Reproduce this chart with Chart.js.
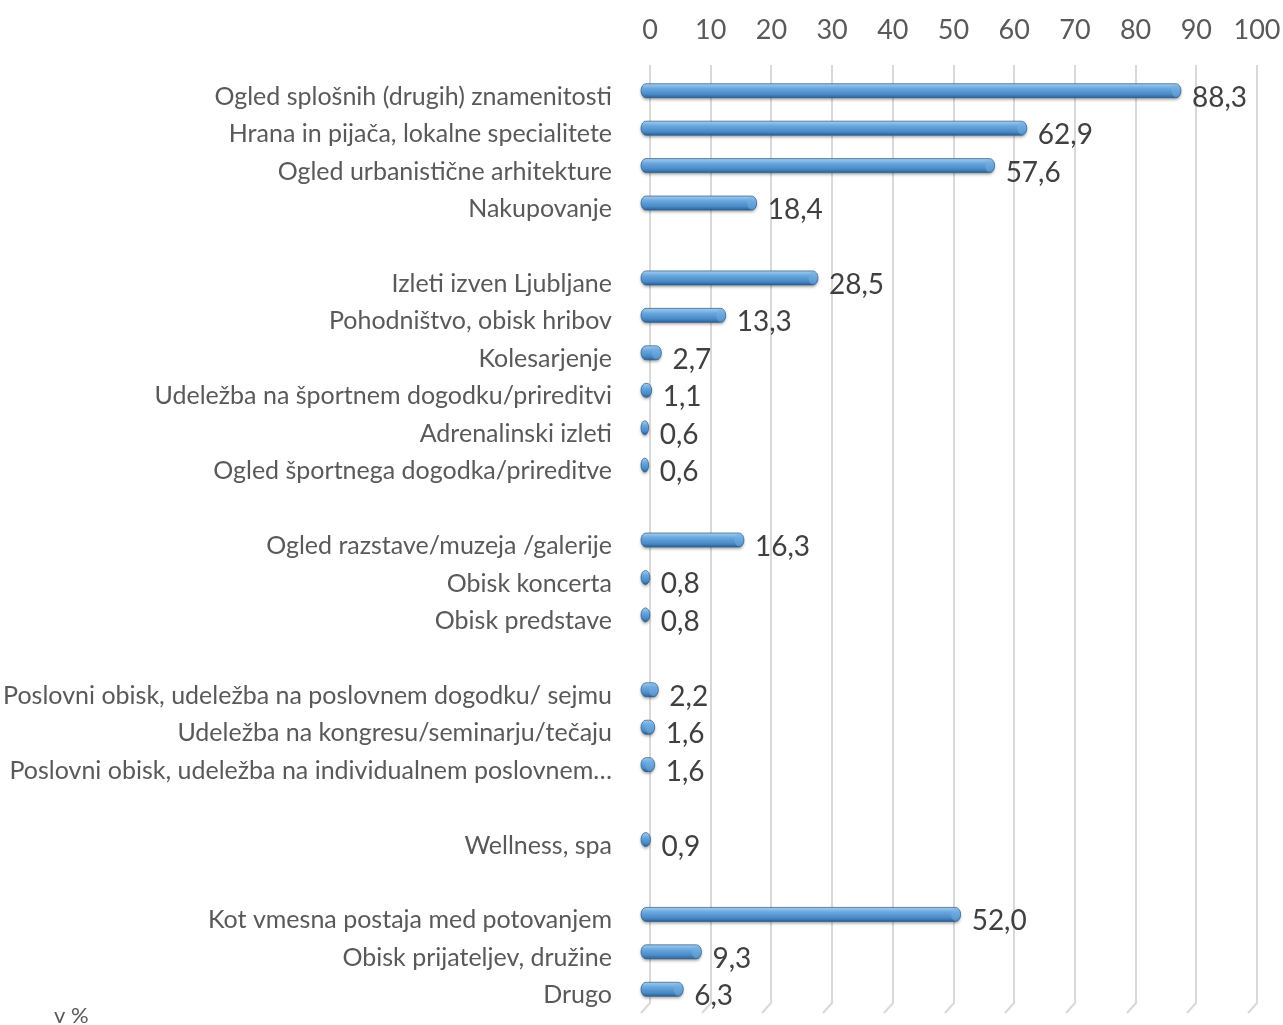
<!DOCTYPE html>
<html>
<head>
<meta charset="utf-8">
<script src="https://cdn.jsdelivr.net/npm/chart.js@4.4.1/dist/chart.umd.min.js"></script>
<style>
  html, body { margin: 0; padding: 0; background: #fff; }
  #wrap { width: 1283px; height: 1025px; position: relative; }
</style>
</head>
<body>
<div id="wrap"><canvas id="razlogi"></canvas></div>
<script>
// Categories (empty strings are the spacer rows between groups)
const categories = [
    "Ogled splošnih (drugih) znamenitosti",
    "Hrana in pijača, lokalne specialitete",
    "Ogled urbanistične arhitekture",
    "Nakupovanje",
    "",
    "Izleti izven Ljubljane",
    "Pohodništvo, obisk hribov",
    "Kolesarjenje",
    "Udeležba na športnem dogodku/prireditvi",
    "Adrenalinski izleti",
    "Ogled športnega dogodka/prireditve",
    "",
    "Ogled razstave/muzeja /galerije",
    "Obisk koncerta",
    "Obisk predstave",
    "",
    "Poslovni obisk, udeležba na poslovnem dogodku/ sejmu",
    "Udeležba na kongresu/seminarju/tečaju",
    "Poslovni obisk, udeležba na individualnem poslovnem…",
    "",
    "Wellness, spa",
    "",
    "Kot vmesna postaja med potovanjem",
    "Obisk prijateljev, družine",
    "Drugo"
];

// Share of respondents, in %
const values = [
    88.3, 62.9, 57.6, 18.4,
    null,
    28.5, 13.3, 2.7, 1.1, 0.6, 0.6,
    null,
    16.3, 0.8, 0.8,
    null,
    2.2, 1.6, 1.6,
    null,
    0.9,
    null,
    52.0, 9.3, 6.3
];

const axisTicks = [0, 10, 20, 30, 40, 50, 60, 70, 80, 90, 100];

const DEPTH = 7; // 3D offset between the back wall and the bars

// back-wall gridlines with the slanted floor ends
const gridPlugin = {
    id: 'gridWall',
    beforeDatasetsDraw(chart) {
        const ctx = chart.ctx;
        const xs = chart.scales.x;
        const area = chart.chartArea;
        ctx.save();
        ctx.strokeStyle = '#d9d9d9';
        ctx.lineWidth = 2;
        axisTicks.forEach(t => {
            const x = Math.round(xs.getPixelForValue(t));
            ctx.beginPath();
            ctx.moveTo(x, area.top - 13);
            ctx.lineTo(x, area.bottom - 11);
            ctx.lineTo(x - 9, area.bottom - 1);
            ctx.stroke();
        });
        ctx.restore();
    }
};

// cylinder bars + value labels
const barPlugin = {
    id: 'cylBars',
    afterDatasetsDraw(chart) {
        const ctx = chart.ctx;
        const meta = chart.getDatasetMeta(0);
        meta.data.forEach((bar, i) => {
            const v = values[i];
            if (v === null) return;
            const h = bar.height;
            const cy = bar.y - DEPTH + 1;
            let left = bar.base - DEPTH - 2;
            let right = bar.x - DEPTH + 2;
            const rx = Math.min(5, (right - left) / 2);
            const ry = h / 2;

            ctx.save();
            const g = ctx.createLinearGradient(0, cy - ry, 0, cy + ry);
            g.addColorStop(0, '#a4ccee');
            g.addColorStop(0.35, '#67a6de');
            g.addColorStop(0.75, '#4a8ac6');
            g.addColorStop(1, '#2b6399');

            ctx.beginPath();
            ctx.moveTo(left + rx, cy - ry);
            ctx.lineTo(right - rx, cy - ry);
            ctx.ellipse(right - rx, cy, rx, ry, 0, -Math.PI / 2, Math.PI / 2);
            ctx.lineTo(left + rx, cy + ry);
            ctx.ellipse(left + rx, cy, rx, ry, 0, Math.PI / 2, Math.PI * 1.5);
            ctx.closePath();
            ctx.shadowColor = 'rgba(0,0,0,0.35)';
            ctx.shadowBlur = 3;
            ctx.shadowOffsetY = 2;
            ctx.fillStyle = g;
            ctx.fill();
            ctx.shadowColor = 'transparent';
            ctx.strokeStyle = 'rgba(40,90,140,0.7)';
            ctx.lineWidth = 1;
            ctx.stroke();

            // end cap
            if (right - left > 2 * rx + 1) {
                ctx.beginPath();
                ctx.ellipse(right - rx, cy, rx - 0.5, ry - 0.5, 0, 0, Math.PI * 2);
                ctx.fillStyle = 'rgba(120,175,225,0.5)';
                ctx.fill();
            }
            ctx.restore();

            ctx.save();
            ctx.font = '28px Lato';
            ctx.fillStyle = '#404040';
            ctx.textAlign = 'left';
            ctx.textBaseline = 'middle';
            ctx.fillText(v.toFixed(1).replace('.', ','), right + 11, bar.y + 1);
            ctx.restore();
        });

        // unit note in the lower-left corner
        ctx.save();
        ctx.font = '22px Lato';
        ctx.fillStyle = '#595959';
        ctx.textBaseline = 'middle';
        ctx.fillText('v %', 54, 1016);
        ctx.restore();
    }
};

const ctx = document.getElementById('razlogi').getContext('2d');
new Chart(ctx, {
    type: 'bar',
    data: {
        labels: categories,
        datasets: [{
            label: 'v %',
            data: values,
            backgroundColor: 'rgba(0,0,0,0)',
            borderWidth: 0,
            barThickness: 14
        }]
    },
    options: {
        indexAxis: 'y',
        responsive: true,
        maintainAspectRatio: false,
        animation: false,
        layout: { padding: 0 },
        plugins: {
            legend: { display: false },
            tooltip: { enabled: false }
        },
        scales: {
            x: {
                position: 'top',
                min: 0,
                max: 100,
                afterBuildTicks: s => { s.ticks = axisTicks.map(v => ({ value: v })); },
                afterFit: s => {
                    s.height = 78;
                    s.paddingLeft = 0;
                    s.paddingRight = 26;
                },
                grid: { display: false, drawTicks: false },
                border: { display: false },
                ticks: {
                    font: { family: 'Lato', size: 27 },
                    color: '#595959',
                    padding: 32,
                    maxRotation: 0
                }
            },
            y: {
                afterFit: s => {
                    s.width = 650;
                    s.paddingTop = 0;
                    s.paddingBottom = 11;
                },
                grid: { display: false, drawTicks: false },
                border: { display: false },
                ticks: {
                    font: { family: 'Lato', size: 25 },
                    color: '#595959',
                    padding: 38,
                    autoSkip: false
                }
            }
        }
    },
    plugins: [gridPlugin, barPlugin]
});
</script>
</body>
</html>
